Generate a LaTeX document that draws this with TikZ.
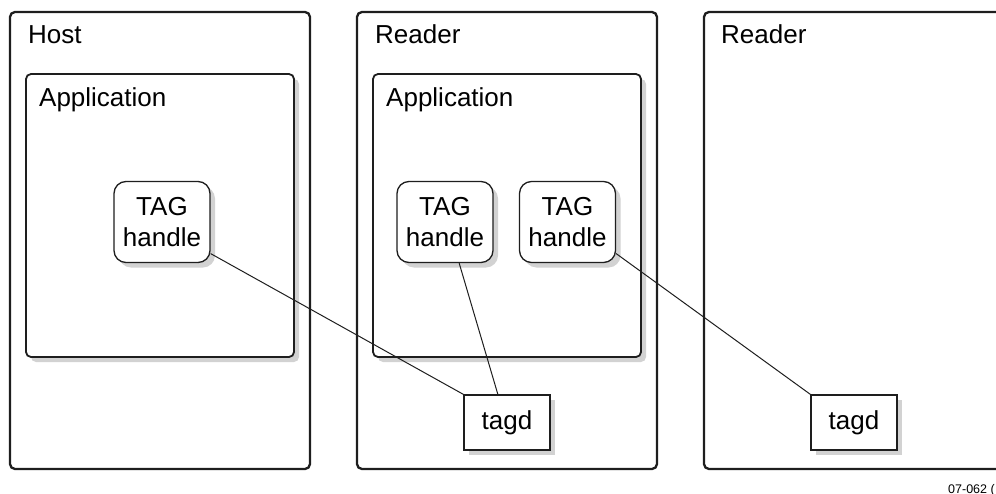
\documentclass[tikz,border=0pt]{standalone}
\usepackage{fontspec}
\setmainfont{Liberation Sans}
\usetikzlibrary{shadows}
\definecolor{edgegray}{HTML}{1E1E1E}
\definecolor{shadegray}{HTML}{D2D2D2}
\tikzset{
  boxshade/.style={drop shadow={shadow xshift=5pt,shadow yshift=-5pt,fill=shadegray,opacity=1}},
  unitbox/.style={draw=edgegray,line width=2.3pt,rounded corners=5pt,minimum width=300pt,minimum height=457pt,inner sep=0pt},
  appbox/.style={draw=edgegray,fill=white,line width=1.8pt,rounded corners=5pt,minimum width=268pt,minimum height=283pt,inner sep=0pt,boxshade},
  handlebox/.style={draw=edgegray,fill=white,line width=1.3pt,rounded corners=12pt,minimum width=96pt,minimum height=81pt,inner sep=0pt,align=center,font=\fontsize{26}{31.5}\selectfont,boxshade},
  daemonbox/.style={draw=edgegray,fill=white,line width=1.3pt,minimum width=86pt,minimum height=55pt,inner sep=0pt,font=\fontsize{26}{31}\selectfont,boxshade},
  boxlbl/.style={font=\fontsize{26}{31}\selectfont,inner sep=0pt,anchor=base west},
  link/.style={draw=edgegray,line width=1pt}
}
\begin{document}
\begin{tikzpicture}[x=1pt,y=-1pt]
  \clip (0,0) rectangle (996,493);
  % machines
  \node[unitbox] (host) at (160,240.5) {};
  \node[unitbox] (readerA) at (507,240.5) {};
  \node[unitbox] (readerB) at (854,240.5) {};
  \node[boxlbl] (hostlbl) at (28,43) {Host};
  \node[boxlbl] (readerAlbl) at (375,43) {Reader};
  \node[boxlbl] (readerBlbl) at (721,43) {Reader};
  % applications
  \node[appbox] (appA) at (160,215.5) {};
  \node[appbox] (appB) at (507,215.5) {};
  \node[boxlbl] (appAlbl) at (39,106) {Application};
  \node[boxlbl] (appBlbl) at (386,106) {Application};
  % handles and daemons
  \node[handlebox] (hA) at (162,222) {TAG\\handle};
  \node[handlebox] (hB) at (445,222) {TAG\\handle};
  \node[handlebox] (hC) at (567.5,222) {TAG\\handle};
  \node[daemonbox] (dA) at (507,422.5) {tagd};
  \node[daemonbox] (dB) at (854,422.5) {tagd};
  % connections
  \draw[link] (hA.-33) -- (dA.north west);
  \draw[link] (hB.-71) -- (dA.108);
  \draw[link] (hC.-33) -- (dB.north west);
  \node[font=\fontsize{12.5}{14}\selectfont,inner sep=0pt,anchor=base west] (figno) at (948,493) {07-062 (};
\end{tikzpicture}
\end{document}
